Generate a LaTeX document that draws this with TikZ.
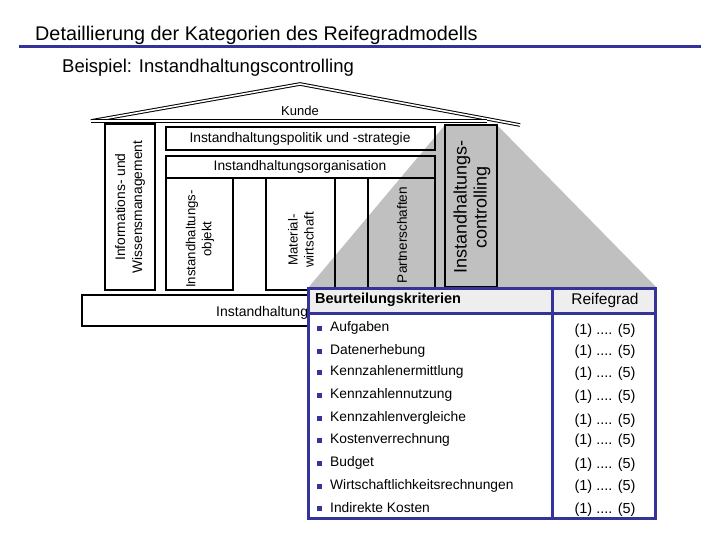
\documentclass[tikz,border=0pt]{standalone}
\usepackage{fontspec}
\setmainfont{Liberation Sans}
\usetikzlibrary{calc}
\definecolor{NAVY}{HTML}{333399}
\definecolor{GREY}{HTML}{C0C0C0}
\definecolor{HEAD}{HTML}{EEEEEE}

\begin{document}
\begin{tikzpicture}[x=1pt,y=-1pt]
\tikzset{boxl/.style={line width=2.6pt,black},roofl/.style={double,double distance=1.6pt,line width=1pt},
 txt/.style={inner sep=0pt,font=\fontsize{13.8}{16}\selectfont},vtxt/.style={txt,rotate=90,align=center},
 itm/.style={anchor=west,inner sep=0pt,font=\fontsize{13.8}{16}\selectfont},
 blt/.style={fill=NAVY,inner sep=0pt,minimum size=5pt}}
\useasboundingbox (0,0) rectangle (720,540);
% title
\node[anchor=base west,inner sep=0pt,font=\fontsize{19.8}{22}\selectfont] (title) at (35,41) {Detaillierung der Kategorien des Reifegradmodells};
\draw[NAVY,line width=3pt] (19,47) -- (701,47);
\node[anchor=base west,inner sep=0pt,font=\fontsize{18.5}{20}\selectfont] (bsp) at (62,73) {Beispiel: Instandhaltungscontrolling};
% spotlight
\fill[GREY] (445,125) -- (497,125) -- (657,288) -- (308,288) -- cycle;
% house
\draw[roofl] (91,121) -- (300,84) -- (520,125);
\draw[roofl] (91,121) -- (487,121);
\node[txt,font=\fontsize{13}{15}\selectfont] (kunde) at (300,111) {Kunde};
\draw[boxl] (105,124) rectangle (155,290);
\node[vtxt,font=\fontsize{13.8}{17}\selectfont] (iwm) at (130,207) {Informations- und\\Wissensmanagement};
\draw[boxl] (166,127) rectangle (435,150);
\node[txt] (pol) at (300,139) {Instandhaltungspolitik und -strategie};
\draw[boxl] (166,156) rectangle (435,178);
\node[txt] (org) at (300,167) {Instandhaltungsorganisation};
\draw[boxl] (166,178) rectangle (233,290);
\draw[boxl] (266,178) rectangle (335,290);
\draw[boxl] (368,178) rectangle (435,290);
\node[vtxt,anchor=west,font=\fontsize{13.2}{16}\selectfont] (obj) at (200,288) {Instandhaltungs-\\objekt};
\node[vtxt,font=\fontsize{13.2}{16}\selectfont] (mat) at (301,240) {Material-\\wirtschaft};
\node[vtxt,font=\fontsize{13.6}{16}\selectfont] (part) at (402,235) {Partnerschaften};
\draw[boxl,fill=GREY] (445,125) rectangle (497,287);
\node[vtxt,font=\fontsize{18}{20}\selectfont] (ctrl) at (472,207) {Instandhaltungs-\\controlling};
\draw[boxl] (82,295) rectangle (540,326);
\node[txt,anchor=base west,font=\fontsize{14}{16}\selectfont] (basis) at (216,316) {Instandhaltung};
% table
\draw[NAVY,line width=3pt,fill=white] (308,288) rectangle (655,518);
\draw[NAVY,line width=3pt,fill=HEAD] (308,288) rectangle (655,313);
\draw[NAVY,line width=3pt] (552,288) -- (552,518);
\node[itm,font=\bfseries\fontsize{14.5}{16}\selectfont] (krit) at (315,300) {Beurteilungskriterien};
\node[txt,font=\fontsize{15.5}{17}\selectfont] (reife) at (605,300) {Reifegrad};
\foreach \t/\y/\r [count=\i] in {Aufgaben/328/331,Datenerhebung/351/352,Kennzahlenermittlung/372/374,
 Kennzahlennutzung/395/397,Kennzahlenvergleiche/418/421,Kostenverrechnung/440/441,Budget/463/465,
 Wirtschaftlichkeitsrechnungen/486/487,Indirekte Kosten/508/510}{
 \node[blt] (b\i) at (319,\y) {};
 \node[itm] (k\i) at (330,\y) {\t};
 \node[itm,anchor=center,font=\fontsize{14.5}{16}\selectfont] (r\i) at (605,\r) {(1) .... (5)};
}
\end{tikzpicture}
\end{document}
